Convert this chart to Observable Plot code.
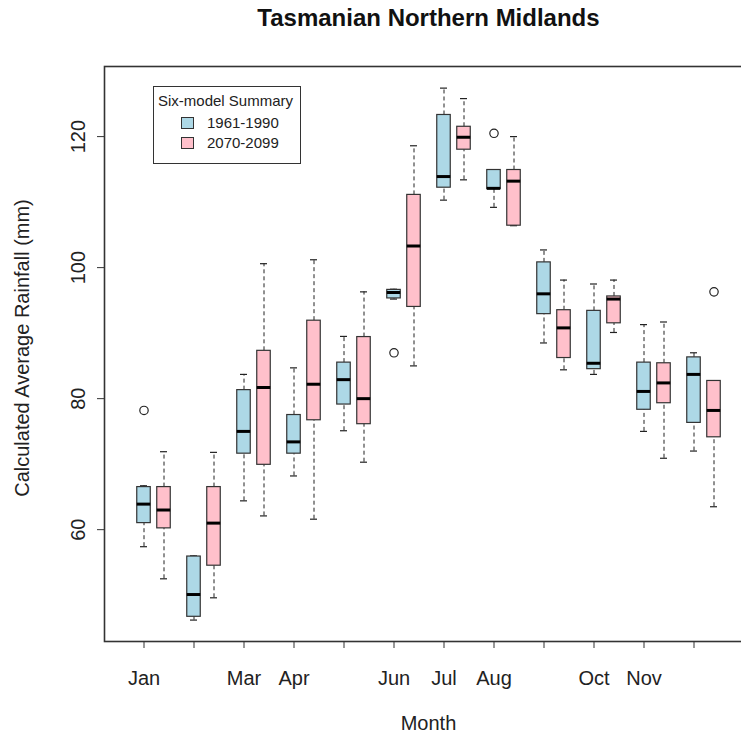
<!DOCTYPE html>
<html>
<head>
<meta charset="utf-8">
<script src="https://cdn.jsdelivr.net/npm/d3@7"></script>
<script src="https://cdn.jsdelivr.net/npm/@observablehq/plot@0.6"></script>
<style>
  html, body { margin: 0; padding: 0; background: #fff; overflow: hidden; }
  #wrap { position: relative; width: 741px; height: 738px; overflow: hidden; font-family: "Liberation Sans", Arial, sans-serif; }
  #wrap svg { max-width: none !important; width: 800px !important; height: 738px !important; display: block; }
  #legend { position: absolute; left: 153px; top: 86px; width: 146px; height: 76px; border: 1px solid #333; background: #fff; color: #222; }
  #legend .ttl { position: absolute; left: 4px; top: 5px; font-size: 15px; white-space: nowrap; }
  #legend .item { position: absolute; left: 27px; font-size: 15px; white-space: nowrap; }
  #legend .sw { display: inline-block; width: 11px; height: 10px; border: 1px solid #333; vertical-align: middle; margin-right: 13px; position: relative; top: -1px; }
</style>
</head>
<body>
<div id="wrap"></div>
<script>
// Month categories and which tick labels R managed to fit on the axis
const months = ["Jan", "Feb", "Mar", "Apr", "May", "Jun", "Jul", "Aug", "Sep", "Oct", "Nov", "Dec"];
const shownMonths = ["Jan", "Mar", "Apr", "Jun", "Jul", "Aug", "Oct", "Nov"];
const yTicks = [60, 80, 100, 120];
const periods = ["1961-1990", "2070-2099"];
const periodColors = ["#ADD8E6", "#FFC0CB"];

// 1961-1990 six-model summary (mm): lower whisker, Q1, median, Q3, upper whisker
const baseLo  = [57.4, 46.2, 64.4, 68.2, 75.1, 95.2, 110.3, 109.2, 88.5, 83.7, 75.0, 72.0];
const baseQ1  = [61.0, 46.7, 71.6, 71.6, 79.1, 95.3, 112.2, 112.0, 92.9, 84.5, 78.3, 76.3];
const baseMed = [63.9, 50.1, 75.0, 73.4, 82.9, 96.2, 113.9, 112.1, 96.0, 85.4, 81.1, 83.7];
const baseQ3  = [66.5, 55.9, 81.3, 77.5, 85.5, 96.6, 123.3, 114.9, 100.8, 93.4, 85.5, 86.3];
const baseHi  = [66.7, 56.0, 83.7, 84.7, 89.5, 96.7, 127.4, 114.9, 102.7, 97.5, 91.3, 87.0];
const baseOutMonth = ["Jan", "Jun", "Aug"];
const baseOutValue = [78.2, 87.0, 120.5];

// 2070-2099 six-model summary (mm)
const futLo  = [52.5, 49.6, 62.1, 61.6, 70.3, 85.0, 113.4, 106.4, 84.4, 90.1, 70.9, 63.5];
const futQ1  = [60.2, 54.5, 69.9, 76.7, 76.1, 94.0, 118.0, 106.4, 86.2, 91.5, 79.3, 74.1];
const futMed = [63.0, 61.0, 81.7, 82.2, 80.0, 103.3, 119.9, 113.2, 90.8, 95.2, 82.4, 78.2];
const futQ3  = [66.5, 66.5, 87.3, 91.9, 89.4, 111.1, 121.5, 114.9, 93.5, 95.6, 85.4, 82.7];
const futHi  = [71.9, 71.8, 100.6, 101.2, 96.3, 118.6, 125.8, 120.0, 98.1, 98.1, 91.7, 82.7];
const futOutMonth = ["Dec"];
const futOutValue = [96.3];

// Box layout on the numeric x scale: month i sits at i, the later period 0.4 to its right
const pairOffset = [0, 0.4];
const boxHalf = 0.135;
const capHalf = 0.07;

const stats = [
  [baseLo, baseQ1, baseMed, baseQ3, baseHi],
  [futLo, futQ1, futMed, futQ3, futHi]
];
const rows = periods.flatMap((p, k) => months.map((m, i) => ({
  month: m, period: p, pos: i + 1 + pairOffset[k],
  lo: stats[k][0][i], q1: stats[k][1][i], med: stats[k][2][i], q3: stats[k][3][i], hi: stats[k][4][i]
})));
const outliers = [
  ...baseOutMonth.map((m, j) => ({period: periods[0], pos: months.indexOf(m) + 1 + pairOffset[0], value: baseOutValue[j]})),
  ...futOutMonth.map((m, j) => ({period: periods[1], pos: months.indexOf(m) + 1 + pairOffset[1], value: futOutValue[j]}))
];

const ink = "#222";
const boxMarks = periods.map((p, k) =>
  Plot.rect(rows.filter(d => d.period === p), {
    x1: d => d.pos - boxHalf, x2: d => d.pos + boxHalf, y1: "q1", y2: "q3",
    fill: periodColors[k], stroke: "#333", strokeWidth: 1.2
  })
);

const chart = Plot.plot({
  width: 800,
  height: 738,
  marginLeft: 104,
  marginRight: 48,
  marginTop: 66,
  marginBottom: 97,
  style: {fontFamily: "'Liberation Sans', Arial, sans-serif", fontSize: "20px", color: ink, background: "white"},
  x: {domain: [0.21, 13.17]},
  y: {domain: [42.93, 130.7]},
  marks: [
    // dashed whiskers
    Plot.ruleX(rows, {x: "pos", y1: "q3", y2: "hi", stroke: ink, strokeDasharray: "4,3"}),
    Plot.ruleX(rows, {x: "pos", y1: "lo", y2: "q1", stroke: ink, strokeDasharray: "4,3"}),
    // whisker caps
    Plot.ruleY(rows, {y: "hi", x1: d => d.pos - capHalf, x2: d => d.pos + capHalf, stroke: ink, strokeWidth: 1.2}),
    Plot.ruleY(rows, {y: "lo", x1: d => d.pos - capHalf, x2: d => d.pos + capHalf, stroke: ink, strokeWidth: 1.2}),
    ...boxMarks,
    // medians
    Plot.ruleY(rows, {y: "med", x1: d => d.pos - boxHalf, x2: d => d.pos + boxHalf, stroke: "#000", strokeWidth: 3}),
    Plot.dot(outliers, {x: "pos", y: "value", r: 4.2, stroke: ink, strokeWidth: 1.2, fill: "none"}),
    Plot.frame({stroke: "#333", strokeWidth: 1.6}),
    Plot.axisX(d3.range(1, months.length + 1), {
      tickSize: 7, tickPadding: 22, fontSize: 20, label: null, stroke: "#333",
      tickFormat: d => shownMonths.includes(months[d - 1]) ? months[d - 1] : ""
    }),
    Plot.axisY(yTicks, {tickSize: 7, label: null, tickFormat: () => "", stroke: "#333"}),
    Plot.text(yTicks, {y: d => d, frameAnchor: "left", dx: -26, rotate: -90, text: d => String(d),
      fontSize: 20, textAnchor: "middle", lineAnchor: "middle", fill: ink}),
    Plot.text(["Calculated Average Rainfall (mm)"], {frameAnchor: "left", dx: -82, dy: -6, rotate: -90,
      fontSize: 20, textAnchor: "middle", lineAnchor: "middle", fill: ink}),
    Plot.text(["Month"], {frameAnchor: "bottom", dy: 82, fontSize: 20, lineAnchor: "middle", fill: ink}),
    Plot.text(["Tasmanian Northern Midlands"], {frameAnchor: "top", dy: -48, fontSize: 24,
      fontWeight: "bold", lineAnchor: "middle", fill: "#111"})
  ]
});

const wrap = document.getElementById("wrap");
wrap.appendChild(chart);

// legend box
const legend = document.createElement("div");
legend.id = "legend";
const ttl = document.createElement("div");
ttl.className = "ttl";
ttl.textContent = "Six-model Summary";
legend.appendChild(ttl);
periods.forEach((p, k) => {
  const item = document.createElement("div");
  item.className = "item";
  item.style.top = (27 + k * 20) + "px";
  const sw = document.createElement("span");
  sw.className = "sw";
  sw.style.background = periodColors[k];
  item.appendChild(sw);
  item.appendChild(document.createTextNode(p));
  legend.appendChild(item);
});
wrap.appendChild(legend);
</script>
</body>
</html>
